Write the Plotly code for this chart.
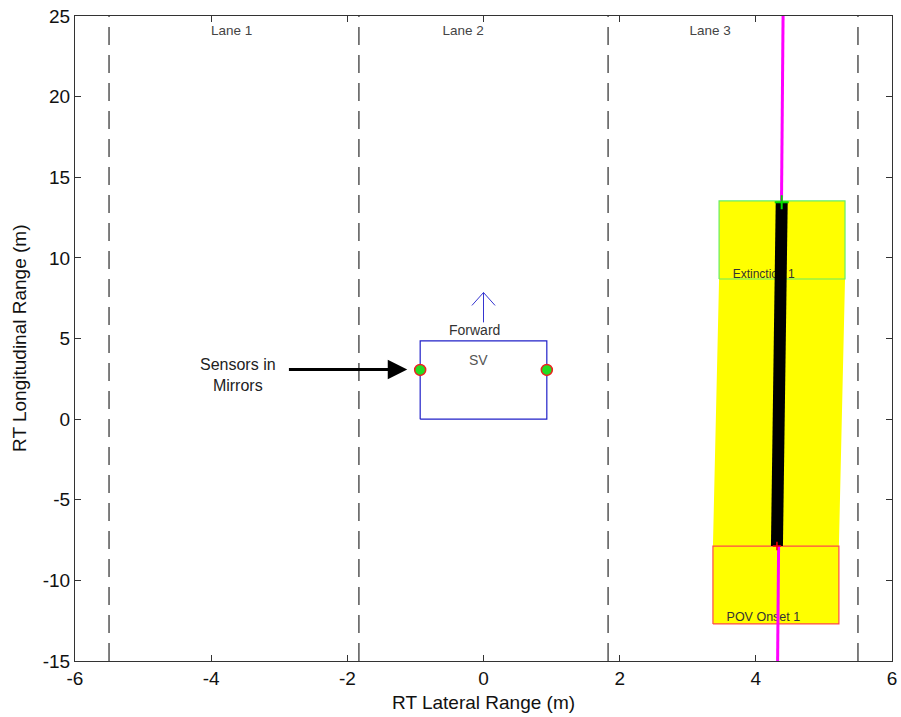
import plotly.graph_objects as go

# ---------------- data ----------------
lane_lines_x = [-5.5, -1.83, 1.83, 5.5]
lane_labels = ["Lane 1", "Lane 2", "Lane 3"]
lane_label_x = [-3.7, -0.3, 3.33]
lane_label_y = [24.05, 24.05, 24.05]

sv_box_x = [-0.93, 0.93, 0.93, -0.93, -0.93]
sv_box_y = [0.0, 0.0, 4.85, 4.85, 0.0]
sensor_x = [-0.93, 0.93]
sensor_y = [3.05, 3.05]

forward_shaft_x = [0.0, 0.0]
forward_shaft_y = [6.0, 7.85]
forward_head_x = [-0.17, 0.0, 0.17]
forward_head_y = [7.05, 7.85, 7.05]

pov_box_x = [3.37, 5.22]          # left, right
pov_box_y = [-12.7, -7.87]        # bottom, top
ext_box_x = [3.46, 5.31]
ext_box_y = [8.69, 13.53]

track_x = [4.31, 4.38]            # black trajectory (onset -> extinction)
track_y = [-7.87, 13.45]
magenta_x = [4.32, 4.40]
magenta_y = [-15.0, 25.0]

x_ticks = [-6, -4, -2, 0, 2, 4, 6]
x_tick_text = ["-6", "-4", "-2", "0", "2", "4", "6"]
y_ticks = [-15, -10, -5, 0, 5, 10, 15, 20, 25]
y_tick_text = ["-15", "-10", "-5", "0", "5", "10", "15", "20", "25"]

FONT = "Liberation Sans, Arial, sans-serif"

fig = go.Figure()

# swept yellow region
sweep_x = [pov_box_x[0], pov_box_x[1], pov_box_x[1], ext_box_x[1], ext_box_x[1],
           ext_box_x[0], ext_box_x[0], pov_box_x[0], pov_box_x[0]]
sweep_y = [pov_box_y[0], pov_box_y[0], pov_box_y[1], ext_box_y[0], ext_box_y[1],
           ext_box_y[1], ext_box_y[0], pov_box_y[1], pov_box_y[0]]
fig.add_trace(go.Scatter(x=sweep_x, y=sweep_y, fill="toself", fillcolor="#ffff00",
                         line=dict(width=0), mode="lines", hoverinfo="skip"))

def box(xs, ys, color):
    bx = [xs[0], xs[1], xs[1], xs[0], xs[0]]
    by = [ys[0], ys[0], ys[1], ys[1], ys[0]]
    fig.add_trace(go.Scatter(x=bx, y=by, mode="lines", line=dict(color=color, width=1.2),
                             hoverinfo="skip"))

box(pov_box_x, pov_box_y, "#ff4a4a")
box(ext_box_x, ext_box_y, "#66ee66")

# lane lines
for lx in lane_lines_x:
    fig.add_trace(go.Scatter(x=[lx, lx], y=[-15, 25], mode="lines",
                             line=dict(color="#555555", width=1.5, dash="18px,10px"),
                             hoverinfo="skip"))

# texts under the trajectory
fig.add_trace(go.Scatter(x=[ext_box_x[0] + 0.2], y=[ext_box_y[0] + 0.25], mode="text",
                         text=["Extinction 1"], textposition="middle right",
                         textfont=dict(family=FONT, size=12, color="#333333"),
                         hoverinfo="skip"))
fig.add_trace(go.Scatter(x=[pov_box_x[0] + 0.2], y=[pov_box_y[0] + 0.37], mode="text",
                         text=["POV Onset 1"], textposition="middle right",
                         textfont=dict(family=FONT, size=12.5, color="#333333"),
                         hoverinfo="skip"))

# magenta path and black trajectory
fig.add_trace(go.Scatter(x=magenta_x, y=magenta_y, mode="lines",
                         line=dict(color="#ff00ff", width=3), hoverinfo="skip"))
fig.add_trace(go.Scatter(x=track_x, y=track_y, mode="lines",
                         line=dict(color="#000000", width=12), hoverinfo="skip"))
fig.add_trace(go.Scatter(x=[track_x[1]], y=[track_y[1]], mode="markers",
                         marker=dict(symbol="cross-thin", size=10, line=dict(color="#00dd00", width=2)),
                         hoverinfo="skip"))
fig.add_trace(go.Scatter(x=[track_x[0]], y=[track_y[0]], mode="markers",
                         marker=dict(symbol="cross-thin", size=6, line=dict(color="#ff0000", width=1.5)),
                         hoverinfo="skip"))

# subject vehicle
fig.add_trace(go.Scatter(x=sv_box_x, y=sv_box_y, mode="lines",
                         line=dict(color="#2020c8", width=1.2), hoverinfo="skip"))
fig.add_trace(go.Scatter(x=sensor_x, y=sensor_y, mode="markers",
                         marker=dict(symbol="circle", size=11, color="#22dd22",
                                     line=dict(color="#ee2020", width=1.5)),
                         hoverinfo="skip"))
fig.add_trace(go.Scatter(x=forward_shaft_x, y=forward_shaft_y, mode="lines",
                         line=dict(color="#3535d0", width=1), hoverinfo="skip"))
fig.add_trace(go.Scatter(x=forward_head_x, y=forward_head_y, mode="lines",
                         line=dict(color="#3535d0", width=1), hoverinfo="skip"))

# lane labels
fig.add_trace(go.Scatter(x=lane_label_x, y=lane_label_y, mode="text", text=lane_labels,
                         textfont=dict(family=FONT, size=13.5, color="#444444"),
                         hoverinfo="skip"))

fig.add_annotation(x=-0.13, y=5.53, text="Forward", showarrow=False,
                   font=dict(family=FONT, size=14, color="#333333"))
fig.add_annotation(x=-0.07, y=3.67, text="SV", showarrow=False,
                   font=dict(family=FONT, size=14, color="#555555"))
fig.add_annotation(x=-3.6, y=2.74, text="Sensors in<br>Mirrors", showarrow=False,
                   font=dict(family=FONT, size=16, color="#222222"))
fig.add_annotation(x=-1.12, y=3.08, ax=-2.88, ay=3.08, axref="x", ayref="y",
                   xref="x", yref="y", text="", showarrow=True,
                   arrowhead=2, arrowsize=1.3, arrowwidth=3, arrowcolor="#000000")

# axis titles
fig.add_annotation(xref="paper", yref="paper", x=0.5, y=-0.065, yanchor="middle",
                   text="RT Lateral Range (m)", showarrow=False,
                   font=dict(family=FONT, size=19, color="#111111"))
fig.add_annotation(xref="paper", yref="paper", x=-0.068, y=0.5, xanchor="center",
                   textangle=-90, text="RT Longitudinal Range (m)", showarrow=False,
                   font=dict(family=FONT, size=19, color="#111111"))

axis_common = dict(showline=True, mirror="ticks", linecolor="#333333", linewidth=1,
                   ticks="inside", ticklen=6, tickcolor="#333333", showgrid=False,
                   zeroline=False, automargin=False,
                   tickfont=dict(family=FONT, size=19, color="#111111"))

fig.update_layout(
    width=901, height=717,
    margin=dict(l=75, r=9, t=16, b=56),
    paper_bgcolor="white", plot_bgcolor="white",
    showlegend=False,
    xaxis=dict(range=[-6, 6], tickvals=x_ticks, ticktext=x_tick_text, **axis_common),
    yaxis=dict(range=[-15, 25], tickvals=y_ticks, ticktext=y_tick_text, **axis_common),
)

fig.write_html("out.html")
